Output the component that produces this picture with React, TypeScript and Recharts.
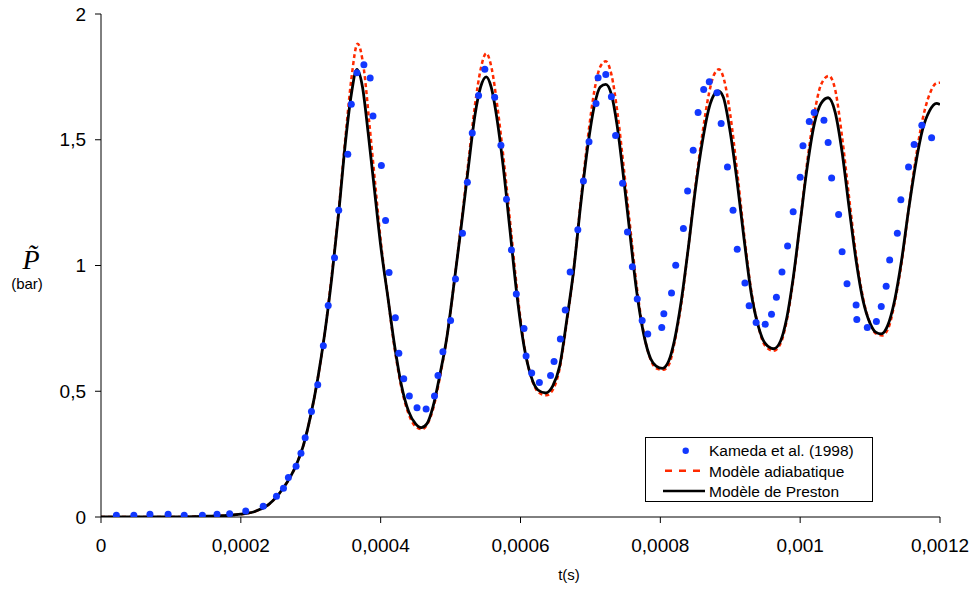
import React from 'react';
import { ComposedChart, Line, Scatter, XAxis, YAxis, Legend } from 'recharts';

// time in units of 1e-4 s, pressure in bar
const kamedaT = [0.22,0.47,0.70,0.96,1.19,1.45,1.66,1.84,2.07,2.32,2.51,2.61,2.68,2.79,2.86,2.92,3.01,3.10,3.18,3.25,3.34,3.40,3.53,3.58,3.66,3.76,3.85,3.89,4.01,4.07,4.12,4.21,4.26,4.33,4.41,4.52,4.65,4.77,4.82,4.89,5.00,5.07,5.17,5.24,5.31,5.40,5.49,5.63,5.72,5.80,5.87,5.94,6.05,6.08,6.16,6.27,6.43,6.48,6.57,6.64,6.71,6.82,6.90,6.98,7.08,7.11,7.22,7.30,7.36,7.46,7.53,7.60,7.67,7.74,7.82,8.02,8.05,8.16,8.22,8.33,8.39,8.47,8.54,8.62,8.70,8.81,8.87,8.96,9.04,9.10,9.21,9.27,9.37,9.50,9.59,9.66,9.74,9.82,9.90,10.00,10.04,10.13,10.20,10.34,10.40,10.45,10.55,10.60,10.67,10.80,10.81,10.96,11.09,11.16,11.23,11.28,11.39,11.44,11.55,11.63,11.74,11.88];
const kamedaP = [0.007,0.007,0.011,0.011,0.007,0.007,0.011,0.013,0.024,0.043,0.083,0.114,0.157,0.202,0.253,0.315,0.419,0.526,0.681,0.841,1.031,1.220,1.442,1.641,1.766,1.798,1.746,1.594,1.398,1.179,0.972,0.792,0.651,0.550,0.481,0.434,0.429,0.481,0.563,0.657,0.781,0.946,1.128,1.331,1.527,1.676,1.780,1.669,1.478,1.263,1.062,0.887,0.750,0.640,0.573,0.535,0.563,0.618,0.708,0.823,0.974,1.142,1.336,1.492,1.644,1.747,1.759,1.671,1.517,1.327,1.133,0.995,0.867,0.781,0.728,0.753,0.808,0.891,1.001,1.147,1.296,1.458,1.608,1.700,1.731,1.687,1.565,1.392,1.220,1.065,0.930,0.840,0.773,0.766,0.806,0.874,0.974,1.078,1.214,1.351,1.476,1.573,1.608,1.578,1.489,1.348,1.203,1.055,0.927,0.843,0.785,0.753,0.777,0.837,0.917,1.022,1.128,1.261,1.392,1.481,1.558,1.508];

const adiabT = [0,1.0,1.5,1.8,2.0,2.2,2.4,2.6,2.8,2.9,3.0,3.1,3.2,3.3,3.4,3.5,3.58,3.67,3.76,3.84,3.92,4.0,4.1,4.2,4.3,4.4,4.5,4.59,4.67,4.75,4.85,4.95,5.05,5.15,5.25,5.35,5.43,5.51,5.59,5.67,5.76,5.86,5.96,6.06,6.16,6.26,6.37,6.47,6.56,6.66,6.76,6.86,6.96,7.06,7.14,7.22,7.30,7.39,7.48,7.57,7.67,7.77,7.87,7.95,8.04,8.13,8.2,8.3,8.4,8.5,8.6,8.7,8.77,8.84,8.91,9.0,9.1,9.2,9.3,9.4,9.5,9.62,9.72,9.8,9.9,10.0,10.1,10.2,10.3,10.41,10.5,10.6,10.7,10.8,10.9,11.0,11.08,11.17,11.26,11.35,11.45,11.55,11.65,11.75,11.85,11.95,12.0];
const adiabP = [0,0,0.003,0.006,0.011,0.022,0.05,0.112,0.212,0.29,0.405,0.55,0.73,0.96,1.22,1.52,1.74,1.882,1.78,1.56,1.33,1.10,0.88,0.67,0.51,0.41,0.36,0.349,0.37,0.43,0.56,0.72,0.93,1.16,1.40,1.64,1.78,1.844,1.78,1.63,1.42,1.15,0.88,0.67,0.55,0.495,0.484,0.51,0.59,0.77,0.98,1.25,1.50,1.70,1.79,1.812,1.76,1.60,1.38,1.15,0.90,0.72,0.62,0.59,0.585,0.61,0.69,0.85,1.07,1.31,1.52,1.69,1.76,1.78,1.74,1.60,1.37,1.12,0.90,0.76,0.68,0.661,0.69,0.77,0.94,1.17,1.41,1.60,1.72,1.754,1.70,1.51,1.27,1.04,0.87,0.77,0.73,0.722,0.75,0.85,1.01,1.22,1.42,1.58,1.68,1.725,1.727];

const prestonT = [0,1.0,1.5,1.8,2.0,2.2,2.4,2.6,2.8,2.9,3.0,3.1,3.2,3.3,3.4,3.5,3.58,3.66,3.74,3.82,3.9,4.0,4.1,4.2,4.3,4.4,4.5,4.58,4.66,4.75,4.85,4.95,5.05,5.15,5.25,5.35,5.43,5.51,5.58,5.66,5.75,5.85,5.95,6.05,6.15,6.25,6.36,6.46,6.56,6.66,6.76,6.86,6.96,7.06,7.14,7.22,7.30,7.38,7.47,7.56,7.66,7.76,7.86,7.94,8.03,8.12,8.2,8.3,8.4,8.5,8.6,8.7,8.77,8.83,8.9,9.0,9.1,9.2,9.3,9.4,9.5,9.62,9.72,9.8,9.9,10.0,10.1,10.2,10.3,10.4,10.5,10.6,10.7,10.8,10.9,11.0,11.08,11.16,11.25,11.35,11.45,11.55,11.65,11.75,11.85,11.95,12.0];
const prestonP = [0,0,0.003,0.006,0.011,0.022,0.05,0.112,0.212,0.29,0.405,0.55,0.73,0.95,1.21,1.50,1.68,1.78,1.71,1.53,1.33,1.08,0.88,0.68,0.52,0.42,0.37,0.355,0.37,0.44,0.57,0.72,0.93,1.15,1.38,1.60,1.71,1.75,1.71,1.59,1.40,1.14,0.88,0.68,0.56,0.505,0.493,0.52,0.60,0.78,0.98,1.24,1.47,1.64,1.71,1.72,1.68,1.56,1.36,1.14,0.90,0.73,0.63,0.60,0.591,0.62,0.70,0.86,1.07,1.30,1.49,1.63,1.68,1.694,1.67,1.53,1.33,1.10,0.89,0.76,0.69,0.669,0.70,0.78,0.95,1.17,1.39,1.56,1.645,1.667,1.61,1.45,1.23,1.02,0.86,0.77,0.735,0.728,0.76,0.86,1.02,1.22,1.40,1.54,1.615,1.645,1.64];

const xTicks = [0, 2, 4, 6, 8, 10, 12];
const xTickLabels = ['0', '0,0002', '0,0004', '0,0006', '0,0008', '0,001', '0,0012'];
const yTicks = [0, 0.5, 1, 1.5, 2];
const yTickLabels = ['0', '0,5', '1', '1,5', '2'];

const seriesNames = ['Kameda et al. (1998)', 'Modèle adiabatique', 'Modèle de Preston'];

const kamedaData = kamedaT.map((t, i) => ({ t, p: kamedaP[i] }));
const adiabData = adiabT.map((t, i) => ({ t, p: adiabP[i] }));
const prestonData = prestonT.map((t, i) => ({ t, p: prestonP[i] }));

const BLUE = '#1238ff';
const RED = '#ff2a00';
const SANS = '"Liberation Sans", Arial, Helvetica, sans-serif';
const SERIF = '"Liberation Serif", "Times New Roman", serif';

const LegendBox = () => (
  <svg width={229} height={66} style={{ display: 'block' }}>
    <rect x={0.5} y={0.5} width={227} height={64} fill="#fff" stroke="#000" strokeWidth={1} />
    <circle cx={40.7} cy={13.7} r={3.2} fill={BLUE} />
    <line x1={20} x2={55} y1={33.7} y2={33.7} stroke={RED} strokeWidth={2.5} strokeDasharray="7 7" />
    <line x1={18} x2={60} y1={54} y2={54} stroke="#000" strokeWidth={2.5} />
    <text x={64} y={19} fontFamily={SANS} fontSize={15.5} fill="#000">{seriesNames[0]}</text>
    <text x={64} y={39.7} fontFamily={SANS} fontSize={15.5} fill="#000">{seriesNames[1]}</text>
    <text x={64} y={60.3} fontFamily={SANS} fontSize={15.5} fill="#000">{seriesNames[2]}</text>
  </svg>
);

const YLabel = () => (
  <g>
    <text x={31} y={269} fontFamily={SERIF} fontStyle="italic" fontSize={28} textAnchor="middle" fill="#000">{'P\u0303'}</text>
    <text x={27} y={289} fontFamily={SANS} fontSize={15} textAnchor="middle" fill="#000">(bar)</text>
  </g>
);

const XLabel = () => (
  <text x={569} y={580} fontFamily={SANS} fontSize={15} textAnchor="middle" fill="#000">t(s)</text>
);

export default function App() {
  return (
    <div style={{ position: 'absolute', left: 0, top: 0, width: 970, height: 590, background: '#fff' }}>
      <ComposedChart width={970} height={590} margin={{ top: 14, right: 30, left: 0, bottom: 0 }}>
        <XAxis
          dataKey="t"
          type="number"
          domain={[0, 12]}
          ticks={xTicks}
          tickFormatter={(v: number) => xTickLabels[xTicks.indexOf(v)]}
          height={73}
          tickSize={6}
          tickMargin={16}
          axisLine={{ stroke: '#000', strokeWidth: 1 }}
          tickLine={{ stroke: '#000', strokeWidth: 1 }}
          tick={{ fill: '#000', fontSize: 19, fontFamily: SANS }}
          allowDataOverflow
          label={{ content: () => <XLabel /> }}
        />
        <YAxis
          type="number"
          domain={[0, 2]}
          ticks={yTicks}
          tickFormatter={(v: number) => yTickLabels[yTicks.indexOf(v)]}
          width={101}
          tickSize={6}
          tickMargin={9}
          axisLine={{ stroke: '#000', strokeWidth: 1 }}
          tickLine={{ stroke: '#000', strokeWidth: 1 }}
          tick={{ fill: '#000', fontSize: 19, fontFamily: SANS }}
          allowDataOverflow
          label={{ content: () => <YLabel /> }}
        />
        <Legend
          layout="vertical"
          align="center"
          verticalAlign="middle"
          content={() => <LegendBox />}
          wrapperStyle={{ position: 'absolute', left: 645, top: 437, width: 229, height: 66 }}
        />
        <Line
          data={adiabData}
          dataKey="p"
          name={seriesNames[1]}
          type="monotone"
          stroke={RED}
          strokeWidth={2.5}
          strokeDasharray="4 3"
          dot={false}
          activeDot={false}
          isAnimationActive={false}
        />
        <Line
          data={prestonData}
          dataKey="p"
          name={seriesNames[2]}
          type="monotone"
          stroke="#000"
          strokeWidth={2.8}
          dot={false}
          activeDot={false}
          isAnimationActive={false}
        />
        <Scatter
          data={kamedaData}
          dataKey="p"
          name={seriesNames[0]}
          fill={BLUE}
          isAnimationActive={false}
          shape={(props: any) => <circle cx={props.cx} cy={props.cy} r={3.5} fill={BLUE} />}
        />
      </ComposedChart>
    </div>
  );
}
